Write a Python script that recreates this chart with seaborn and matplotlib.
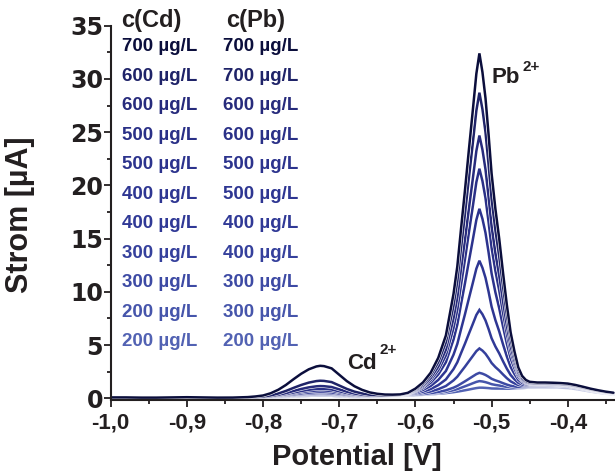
import numpy as np
import pandas as pd
import matplotlib
matplotlib.use("Agg")
import matplotlib.pyplot as plt
import seaborn as sns
from matplotlib import patheffects as pe
from matplotlib.ticker import MultipleLocator

# ---------------- data ----------------
potential = [-1.00, -0.98, -0.96, -0.94, -0.92, -0.90, -0.88, -0.86, -0.84, -0.82,
             -0.81, -0.80, -0.79, -0.78, -0.77, -0.76, -0.75, -0.74, -0.73, -0.725,
             -0.72, -0.71, -0.70, -0.69, -0.68, -0.67, -0.66, -0.65, -0.64, -0.63,
             -0.62, -0.61, -0.60, -0.59, -0.58, -0.57, -0.56, -0.55, -0.545, -0.54,
             -0.535, -0.53, -0.525, -0.52, -0.516, -0.512, -0.508, -0.504, -0.50, -0.495,
             -0.49, -0.485, -0.48, -0.475, -0.47, -0.465, -0.46, -0.455, -0.45, -0.44,
             -0.43, -0.42, -0.41, -0.40, -0.39, -0.38, -0.37, -0.36, -0.35, -0.34]

# normalised Cd peak profile
cd_profile = [0, 0, 0, 0, 0, 0, 0, 0, 0.005, 0.02,
              0.04, 0.07, 0.14, 0.25, 0.40, 0.58, 0.75, 0.89, 0.98, 1.0,
              0.99, 0.92, 0.72, 0.52, 0.36, 0.24, 0.15, 0.09, 0.05, 0.03,
              0.01, 0, 0, 0, 0, 0, 0, 0, 0, 0,
              0, 0, 0, 0, 0, 0, 0, 0, 0, 0,
              0, 0, 0, 0, 0, 0, 0, 0, 0, 0,
              0, 0, 0, 0, 0, 0, 0, 0, 0, 0]

# normalised Pb peak profile
pb_profile = [0, 0, 0, 0, 0, 0, 0, 0, 0, 0,
              0, 0, 0, 0, 0, 0, 0, 0, 0, 0,
              0, 0, 0, 0, 0, 0, 0, 0, 0, 0,
              0.001, 0.005, 0.016, 0.033, 0.060, 0.103, 0.168, 0.290, 0.371, 0.485,
              0.595, 0.711, 0.824, 0.940, 1.000, 0.943, 0.865, 0.757, 0.639, 0.532,
              0.442, 0.339, 0.242, 0.158, 0.100, 0.051, 0.024, 0.010, 0.003, 0,
              0, 0, 0, 0, 0, 0, 0, 0, 0, 0]

# background current of the top curve (µA)
background = [0.08, 0.08, 0.06, 0.06, 0.08, 0.10, 0.08, 0.06, 0.05, 0.05,
              0.05, 0.05, 0.05, 0.05, 0.05, 0.05, 0.05, 0.05, 0.05, 0.05,
              0.05, 0.05, 0.05, 0.05, 0.05, 0.07, 0.10, 0.15, 0.20, 0.25,
              0.30, 0.35, 0.40, 0.45, 0.50, 0.55, 0.60, 0.65, 0.68, 0.70,
              0.73, 0.76, 0.80, 0.83, 0.85, 0.88, 0.90, 0.93, 0.95, 1.00,
              1.05, 1.10, 1.15, 1.20, 1.25, 1.30, 1.35, 1.40, 1.45, 1.48,
              1.48, 1.46, 1.43, 1.38, 1.25, 1.08, 0.90, 0.75, 0.62, 0.52]

cd_heights = [3.0, 1.6, 1.1, 0.85, 0.7, 0.55, 0.45, 0.38, 0.32, 0.27, 0.22]
pb_heights = [31.55, 27.9, 23.9, 20.8, 17.05, 12.2, 7.6, 4.0, 1.75, 1.0, 0.4]
bg_levels = [1.0, 0.95, 0.92, 0.9, 0.88, 0.85, 0.82, 0.8, 0.75, 0.72, 0.7]

cd_conc = ["700 µg/L", "600 µg/L", "600 µg/L", "500 µg/L", "500 µg/L", "400 µg/L",
           "400 µg/L", "300 µg/L", "300 µg/L", "200 µg/L", "200 µg/L"]
pb_conc = ["700 µg/L", "700 µg/L", "600 µg/L", "600 µg/L", "500 µg/L", "500 µg/L",
           "400 µg/L", "400 µg/L", "300 µg/L", "300 µg/L", "200 µg/L"]

x_ticks = [-1.0, -0.9, -0.8, -0.7, -0.6, -0.5, -0.4]
x_tick_labels = ["-1,0", "-0,9", "-0,8", "-0,7", "-0,6", "-0,5", "-0,4"]
y_ticks = [0, 5, 10, 15, 20, 25, 30, 35]

# ---------------- styles ----------------
curve_colors = ["#0b0e3c", "#1f2368", "#272b7c", "#2a3087", "#2c338d", "#2e3692",
                "#303996", "#35409c", "#3d4aa4", "#4655ab", "#5262b3"]
ink = "#231f20"

sns.set_theme(style="ticks")
plt.rcParams["font.family"] = ["Liberation Sans", "DejaVu Sans"]
plt.rcParams["font.weight"] = "bold"

rows = []
pot = np.array(potential)
for i in range(len(pb_heights)):
    cur = (pb_heights[i] * np.array(pb_profile) + cd_heights[i] * np.array(cd_profile)
           + bg_levels[i] * np.array(background))
    for p, c in zip(pot, cur):
        rows.append({"potential": p, "current": c, "curve": i})
df = pd.DataFrame(rows)

W, H = 615, 472
fig = plt.figure(figsize=(W / 100, H / 100), dpi=100)
ax = fig.add_axes([0.18, 0.1517, 0.82, 0.7939])

order = list(range(len(pb_heights)))[::-1]  # light first, dark on top
sns.lineplot(data=df, x="potential", y="current", hue="curve", hue_order=order,
             palette={i: curve_colors[i] for i in order}, sort=False, estimator=None,
             legend=False, linewidth=1.8, ax=ax)
for ln in ax.lines:
    ln.set_path_effects([pe.Stroke(linewidth=2.6, foreground="white"), pe.Normal()])
    ln.set_solid_joinstyle("miter")

ax.set_xlim(-1.0, -0.338)
ax.set_ylim(-0.2, 35)
ax.set_xticks(x_ticks)
ax.set_xticklabels(x_tick_labels)
ax.set_yticks(y_ticks)
ax.set_yticklabels([str(v) for v in y_ticks])
ax.xaxis.set_minor_locator(MultipleLocator(0.05))
ax.yaxis.set_minor_locator(MultipleLocator(2.5))

sns.despine(ax=ax)
for s in ["left", "bottom"]:
    ax.spines[s].set_linewidth(1.5)
    ax.spines[s].set_color(ink)

ax.tick_params(axis="both", which="major", direction="out", length=5, width=1.3, color=ink,
               labelcolor=ink)
ax.tick_params(axis="both", which="minor", direction="out", length=3, width=1.3, color=ink)
ax.tick_params(axis="x", which="major", labelsize=16, pad=4)
ax.tick_params(axis="y", which="major", labelsize=17, pad=0.5)
for t in ax.get_xticklabels():
    t.set_fontweight("bold")
for t in ax.get_yticklabels():
    t.set_fontweight("bold")
    t.set_fontfamily(["DejaVu Sans"])

ax.set_xlabel("Potential [V]", fontsize=21, fontweight="bold", color=ink)
ax.set_ylabel("Strom [µA]", fontsize=22, fontweight="bold", color=ink)
ax.xaxis.set_label_coords(0.489, -0.115)
ax.yaxis.set_label_coords(-0.150, 0.495)

# peak labels
ax.text(-0.4998, 30.13, "Pb", fontsize=16, fontweight="bold", color=ink, ha="left", va="center")
ax.text(-0.460, 31.1, "2+", fontsize=11, fontweight="bold", color=ink, ha="left", va="center")
ax.text(-0.690, 3.22, "Cd", fontsize=16, fontweight="bold", color=ink, ha="left", va="center")
ax.text(-0.6465, 4.55, "2+", fontsize=11, fontweight="bold", color=ink, ha="left", va="center")

# concentration table
def fx(px):
    return px / W

def fy(py):
    return 1 - py / H

fig.text(fx(121), fy(21), "c(Cd)", fontsize=17, fontweight="bold", color=ink, ha="left", va="center")
fig.text(fx(226), fy(21), "c(Pb)", fontsize=17, fontweight="bold", color=ink, ha="left", va="center")
for i in range(len(cd_conc)):
    yy = 46.7 + 29.5 * i
    fig.text(fx(122.5), fy(yy), cd_conc[i], fontsize=13.5, fontweight="bold",
             color=curve_colors[i], ha="left", va="center")
    fig.text(fx(222.5), fy(yy), pb_conc[i], fontsize=13.5, fontweight="bold",
             color=curve_colors[i], ha="left", va="center")

fig.savefig("out.png", dpi=100)
